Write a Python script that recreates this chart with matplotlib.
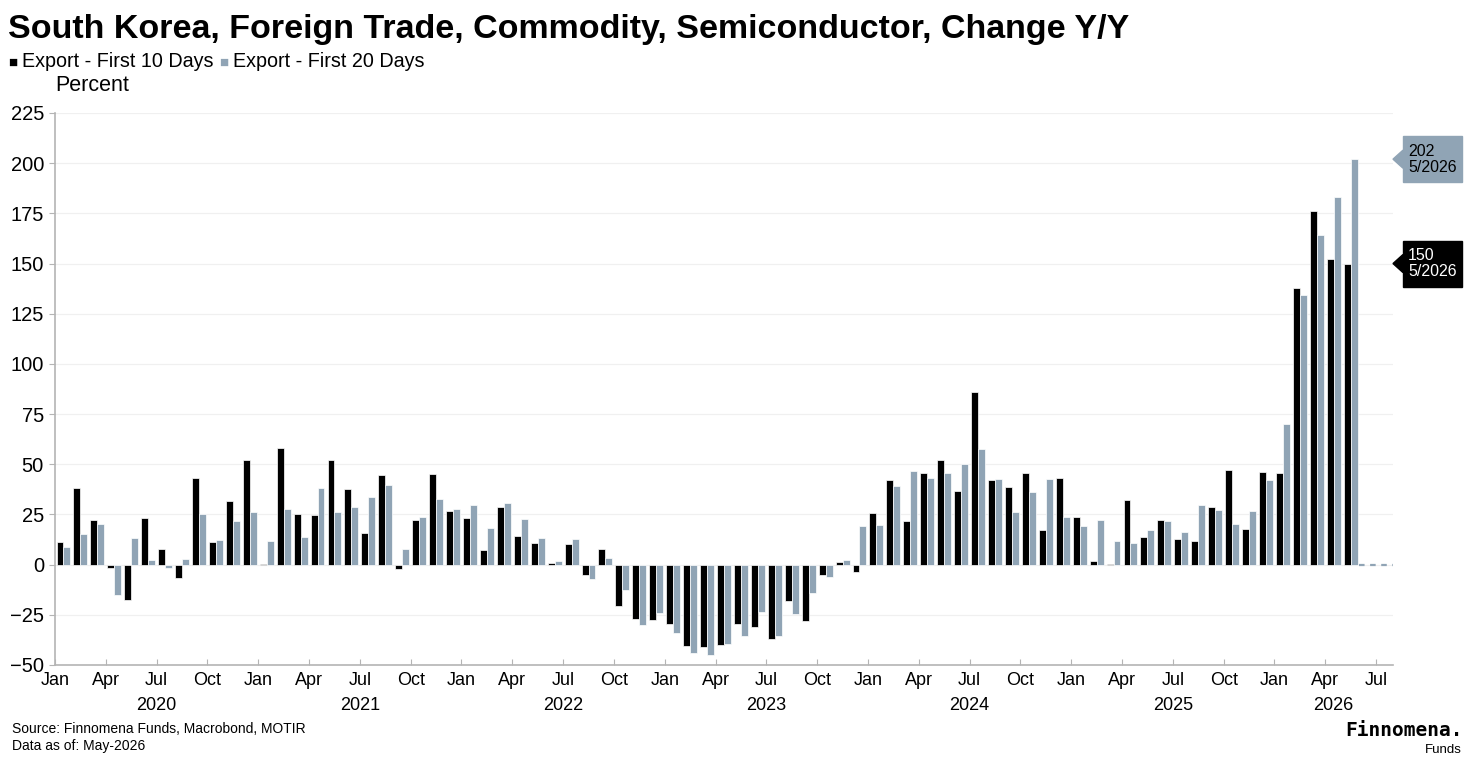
import numpy as np
import matplotlib.pyplot as plt
import matplotlib.transforms as mtransforms
from matplotlib.patches import Rectangle, Polygon

plt.rcParams['font.family'] = ['Liberation Sans', 'DejaVu Sans']

# monthly values, Jan 2020 .. May 2026 (percent, y/y)
first10 = [
    11.5, 38, 22, -1.5, -17.5, 23, 8, -6.5, 43.3, 11.1, 31.9, 52.2,          # 2020
    0.3, 58.1, 25.2, 24.7, 52.2, 37.7, 15.6, 44.8, -2, 22.1, 45.3, 26.6,      # 2021
    23.4, 7.5, 28.7, 14.3, 10.8, 0.8, 10.3, -5.1, 7.8, -20.6, -26.9, -27.6,   # 2022
    -29.6, -40.5, -41.2, -39.9, -29.4, -30.9, -36.8, -18, -28, -5.2, 1.3, -3.8,  # 2023
    25.7, 42.4, 21.8, 45.7, 52.3, 36.7, 86, 42.4, 38.9, 45.7, 17.4, 43.2,     # 2024
    23.9, 1.8, 0.5, 32.2, 14, 22, 12.8, 12, 28.5, 47.3, 17.8, 46.1,           # 2025
    45.7, 137.7, 176, 152.4, 150,                                             # 2026
]
first20 = [
    9, 15.5, 20.3, -15, 13.4, 2.5, -1.5, 3, 25.4, 12.1, 21.9, 26.4,
    11.6, 27.6, 13.6, 38.2, 26.1, 28.6, 33.9, 39.9, 7.8, 23.9, 32.5, 27.6,
    29.6, 18.3, 30.9, 22.9, 13.4, 1.8, 13, -7.3, 3.2, -12.8, -29.9, -24.3,
    -34.2, -44, -44.8, -39.4, -35.4, -23.4, -35.4, -24.6, -14.1, -6.1, 2.3, 19.3,
    19.9, 39.2, 46.7, 43.2, 45.7, 50.3, 57.6, 42.7, 26.2, 36.2, 42.7, 23.6,
    19.4, 22.2, 11.6, 10.8, 17.3, 21.9, 16.4, 29.6, 27.2, 20.3, 26.5, 42,
    70.3, 134.5, 164, 183, 202,
]
quarter_labels = ['Jan', 'Apr', 'Jul', 'Oct']
years = [2020, 2021, 2022, 2023, 2024, 2025, 2026]
last_label = '5/2026'

BLACK = '#000000'
GRAY = '#90a4b5'
AXIS = '#b4b4b4'
W, H = 1470, 763
XMAX = 79

fig = plt.figure(figsize=(W / 100, H / 100), dpi=100)
ax = fig.add_axes([55 / W, 1 - 665 / H, (1393 - 55) / W, (665 - 113) / H])

x = np.arange(len(first10))
ax.bar(x + 0.09, first10, width=0.41, align='edge', color=BLACK,
       edgecolor='white', linewidth=0.5, zorder=3)
ax.bar(x + 0.5, first20, width=0.41, align='edge', color=GRAY,
       edgecolor='white', linewidth=0.5, zorder=3)
# no data yet for the rest of the window
ax.plot([len(x), XMAX], [0, 0], ls=(0, (2.5, 2.5)), color=GRAY, lw=1.6, zorder=2)

ax.set_xlim(0, XMAX)
ax.set_ylim(-50, 225)
ax.set_yticks(np.arange(-50, 226, 25))
ax.yaxis.grid(True, color='#f0f0f0', lw=0.9)
ax.set_axisbelow(True)
for s in ['top', 'right']:
    ax.spines[s].set_visible(False)
for s in ['left', 'bottom']:
    ax.spines[s].set_color(AXIS)
    ax.spines[s].set_linewidth(1.2)

qpos = np.arange(0, XMAX, 3)
ax.set_xticks(qpos)
ax.set_xticklabels([quarter_labels[(p // 3) % 4] for p in qpos])
ax.set_xticks(np.arange(0, XMAX, 12), minor=True)
ax.tick_params(axis='x', which='major', direction='in', length=4, color=AXIS,
               pad=5, labelsize=13)
ax.tick_params(axis='x', which='minor', direction='inout', length=8, color=AXIS)
ax.tick_params(axis='y', direction='out', length=4, color=AXIS, pad=4, labelsize=14.5)

trans = mtransforms.blended_transform_factory(ax.transData, ax.transAxes)
for k, yr in enumerate(years):
    start, end = 12 * k, min(12 * k + 12, XMAX)
    ax.text((start + end) / 2, -40 / 552, str(yr), transform=trans, ha='center',
            va='center', fontsize=13)

# end-of-series value tags
tag = mtransforms.blended_transform_factory(fig.transFigure, ax.transData)
for val, bg, fg in [(first20[-1], GRAY, 'black'), (first10[-1], BLACK, 'white')]:
    half = 23 / 2.007
    ax.add_patch(Rectangle((1403 / W, val - half), 59 / W, 2 * half,
                           transform=tag, color=bg, clip_on=False))
    ax.add_patch(Polygon([(1393 / W, val), (1403 / W, val + 4.5), (1403 / W, val - 4.5)],
                         closed=True, transform=tag, color=bg, clip_on=False))
    ax.text(1408 / W, val, f'{val:.0f}\n{last_label}', transform=tag, ha='left',
            va='center', color=fg, fontsize=11.5, linespacing=1.1)

fig.text(8 / W, 1 - 38 / H, 'South Korea, Foreign Trade, Commodity, Semiconductor, Change Y/Y',
         fontsize=24.5, fontweight='bold', va='baseline')
fig.text(8 / W, 1 - 67 / H, '\u25a0', color=BLACK, fontsize=11, va='baseline')
fig.text(22 / W, 1 - 67 / H, 'Export - First 10 Days', fontsize=14.2, va='baseline')
fig.text(219 / W, 1 - 67 / H, '\u25a0', color=GRAY, fontsize=11, va='baseline')
fig.text(233 / W, 1 - 67 / H, 'Export - First 20 Days', fontsize=14.2, va='baseline')
fig.text(55 / W, 1 - 91 / H, 'Percent', fontsize=15.5, va='baseline')

fig.text(12 / W, 1 - 733 / H, 'Source: Finnomena Funds, Macrobond, MOTIR', fontsize=10, va='baseline')
fig.text(12 / W, 1 - 750 / H, 'Data as of: May-2026', fontsize=10, va='baseline')
fig.text(1463 / W, 1 - 736 / H, 'Finnomena.', fontsize=14, fontweight='bold',
         family='DejaVu Sans Mono', ha='right', va='baseline')
fig.text(1462 / W, 1 - 753 / H, 'Funds', fontsize=9.5, ha='right', va='baseline')

fig.savefig('out.png', dpi=100)
